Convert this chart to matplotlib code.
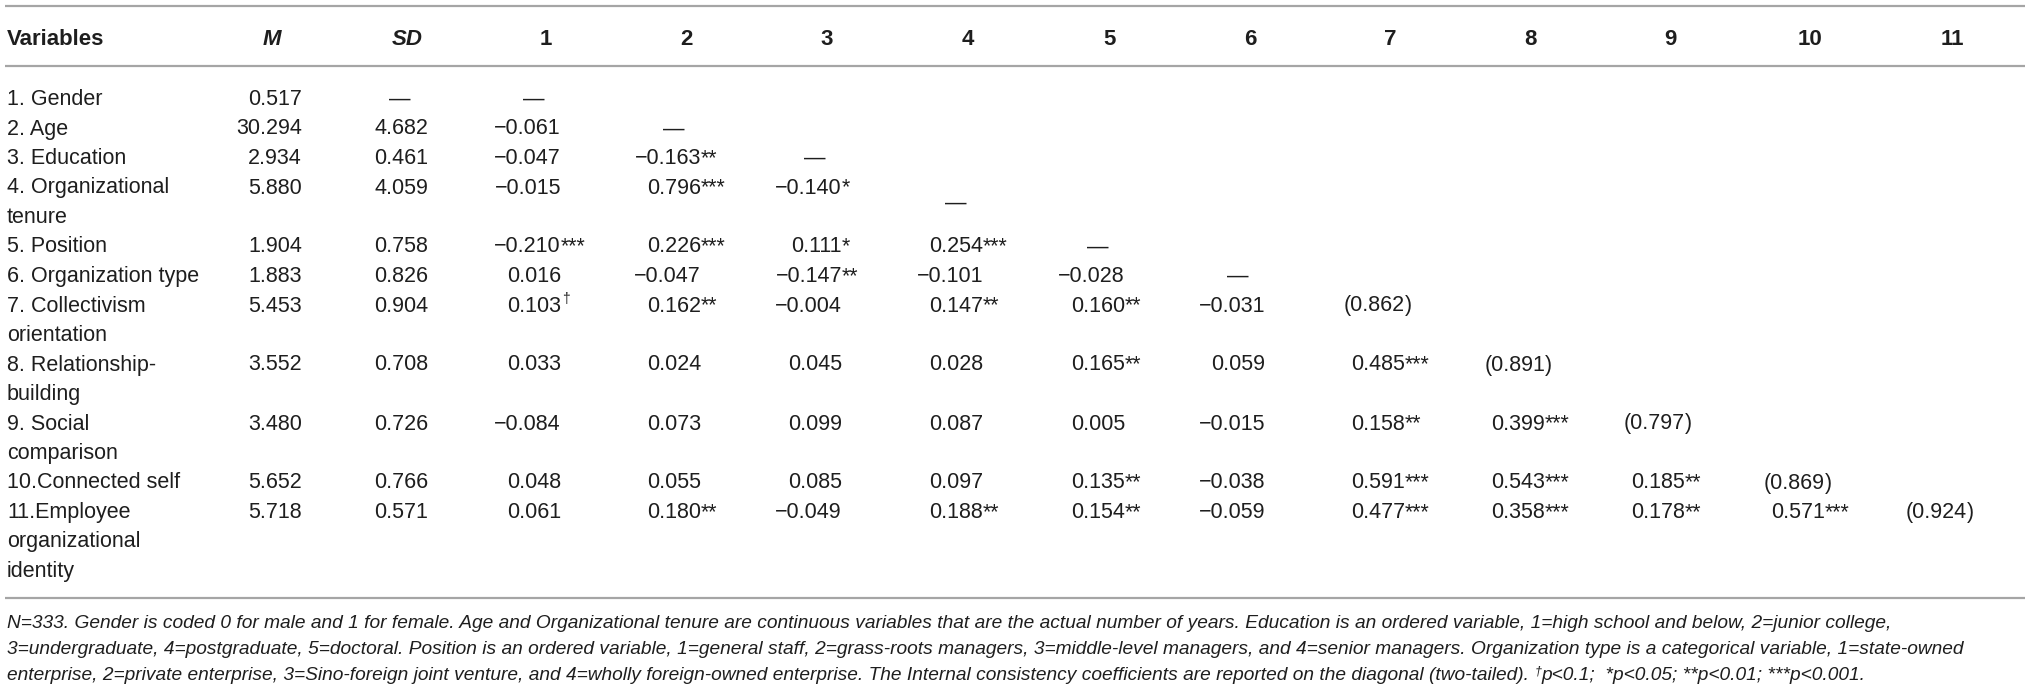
import matplotlib.pyplot as plt

# table content
variables = [
    "1. Gender", "2. Age", "3. Education", "4. Organizational\ntenure",
    "5. Position", "6. Organization type", "7. Collectivism\norientation",
    "8. Relationship-\nbuilding", "9. Social\ncomparison", "10.Connected self",
    "11.Employee\norganizational\nidentity",
]
means = [0.517, 30.294, 2.934, 5.880, 1.904, 1.883, 5.453, 3.552, 3.480, 5.652, 5.718]
sds = [None, 4.682, 0.461, 4.059, 0.758, 0.826, 0.904, 0.708, 0.726, 0.766, 0.571]
corr = [
    ["—"],
    ["−0.061", "—"],
    ["−0.047", "−0.163**", "—"],
    ["−0.015", "0.796***", "−0.140*", "—"],
    ["−0.210***", "0.226***", "0.111*", "0.254***", "—"],
    ["0.016", "−0.047", "−0.147**", "−0.101", "−0.028", "—"],
    ["0.103†", "0.162**", "−0.004", "0.147**", "0.160**", "−0.031", "(0.862)"],
    ["0.033", "0.024", "0.045", "0.028", "0.165**", "0.059", "0.485***", "(0.891)"],
    ["−0.084", "0.073", "0.099", "0.087", "0.005", "−0.015", "0.158**", "0.399***", "(0.797)"],
    ["0.048", "0.055", "0.085", "0.097", "0.135**", "−0.038", "0.591***", "0.543***",
     "0.185**", "(0.869)"],
    ["0.061", "0.180**", "−0.049", "0.188**", "0.154**", "−0.059", "0.477***", "0.358***",
     "0.178**", "0.571***", "(0.924)"],
]
num_heads = [str(i) for i in range(1, 12)]
notes = [
    "N=333. Gender is coded 0 for male and 1 for female. Age and Organizational tenure are "
    "continuous variables that are the actual number of years. Education is an ordered variable, "
    "1=high school and below, 2=junior college,",
    "3=undergraduate, 4=postgraduate, 5=doctoral. Position is an ordered variable, 1=general staff, "
    "2=grass-roots managers, 3=middle-level managers, and 4=senior managers. Organization type is a "
    "categorical variable, 1=state-owned",
    "enterprise, 2=private enterprise, 3=Sino-foreign joint venture, and 4=wholly foreign-owned "
    "enterprise. The Internal consistency coefficients are reported on the diagonal (two-tailed).",
]
note_tail = ["†", "p<0.1;  *p<0.05; **p<0.01; ***p<0.001."]

# layout (pixels)
W, H = 2032, 695
FONT = "Liberation Sans"
INK = "#1e1e1e"
RULE = "#a5a5a5"
FS = 15.5
HFS = 16
row0, step = 97, 29.5
head_y = 37
label_x = 7
mean_x, sd_x = 302, 428
mean_head_x, sd_head_x = 272, 407
col_x = [546, 686, 827, 968, 1110, 1250, 1390, 1530, 1670, 1810, 1952]
num_off, dash_off = 15, -12

fig = plt.figure(figsize=(W / 100, H / 100), dpi=100)
ax = fig.add_axes([0, 0, 1, 1])
ax.set_xlim(0, W)
ax.set_ylim(H, 0)
ax.axis("off")


def txt(x, y, s, **kw):
    kw.setdefault("fontsize", FS)
    kw.setdefault("va", "center_baseline")
    return ax.text(x, y, s, family=FONT, color=INK, **kw)


def cell(x, y, s, y_dash=None):
    if s == "—":
        txt(x + dash_off, y if y_dash is None else y_dash, s, ha="center")
        return
    num = s.rstrip("*†)")
    tail = s[len(num):]
    txt(x + num_off, y, num, ha="right")
    if tail == "†":
        txt(x + num_off + 1, y - 6, tail, ha="left", fontsize=10)
    elif tail:
        txt(x + num_off, y, tail, ha="left")


for yy in (6, 66, 598):
    ax.plot([5, 2025], [yy, yy], color=RULE, lw=1.6, solid_capstyle="butt")

# header
txt(label_x, head_y, "Variables", ha="left", weight="bold", fontsize=HFS)
txt(mean_head_x, head_y, "M", ha="center", weight="bold", style="italic", fontsize=HFS)
txt(sd_head_x, head_y, "SD", ha="center", weight="bold", style="italic", fontsize=HFS)
for x, h in zip(col_x, num_heads):
    txt(x, head_y, h, ha="center", weight="bold", fontsize=HFS)

# body
k = 0
for i, label in enumerate(variables):
    y = row0 + step * k
    lines = label.split("\n")
    for j, part in enumerate(lines):
        txt(label_x, y + step * j, part, ha="left")
    txt(mean_x, y, f"{means[i]:.3f}", ha="right")
    if sds[i] is None:
        txt(sd_x - 28, y, "—", ha="center")
    else:
        txt(sd_x, y, f"{sds[i]:.3f}", ha="right")
    # the dash of a two-line row sits between its lines
    y_dash = y + step / 2 if len(lines) == 2 else None
    for c, val in enumerate(corr[i]):
        cell(col_x[c], y, val, y_dash)
    k += len(lines)

# notes
note_y = [621, 648, 674]
NFS = 13.8
for y, line in zip(note_y, notes):
    last = txt(label_x, y, line, ha="left", style="italic", fontsize=NFS)
dag = ax.annotate(note_tail[0], xy=(1, 0), xycoords=last, xytext=(4, 5),
                  textcoords="offset points", family=FONT, style="italic",
                  fontsize=9, color=INK, va="bottom", ha="left")
ax.annotate(note_tail[1], xy=(1, 0), xycoords=dag, xytext=(0, -5),
            textcoords="offset points", family=FONT, style="italic",
            fontsize=NFS, color=INK, va="bottom", ha="left")

fig.savefig("out.png", dpi=100, facecolor="white")
